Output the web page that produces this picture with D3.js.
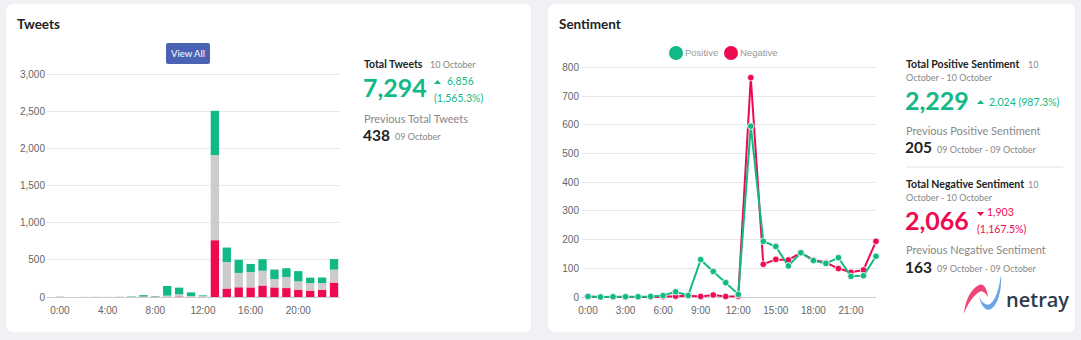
<!DOCTYPE html>
<html><head><meta charset="utf-8">
<script src="https://cdn.jsdelivr.net/npm/d3@7"></script>
<style>
html,body{margin:0;padding:0;background:#eff1f5;}
svg{display:block;}
</style></head>
<body>
<svg id="c" width="1081" height="340"></svg>
<script>
// ---- data ----
const hours = d3.range(24);
const hourLabels = hours.map(h => h + ":00");
const positive = [2,0,1,1,1,2,5,18,5,130,89,50,9,595,194,176,108,154,127,117,137,72,74,142];
const negative = [1,0,0,0,0,0,1,3,4,2,7,2,3,764,114,131,129,154,129,120,99,86,94,194];
const neutral  = [2,1,1,1,1,2,3,4,4,16,30,10,10,1146,357,193,207,200,113,150,112,102,94,174];
const barYTicks = [0,500,1000,1500,2000,2500,3000];
const barXTicks = [0,4,8,12,16,20];
const lineYTicks = [0,100,200,300,400,500,600,700,800];
const lineXTicks = [0,3,6,9,12,15,18,21];
const seriesNames = ["Positive","Negative"];

const GREEN = "#12b886", RED = "#ee0a4f", GREY = "#cccccc";
const TXT = "#666", FONT = "'Liberation Sans', Arial, sans-serif", UI = "Lato, 'Noto Sans', sans-serif";

const svg = d3.select("#c");

// cards
svg.append("rect").attr("x",6).attr("y",4).attr("width",525).attr("height",328).attr("rx",7).attr("fill","#fff");
svg.append("rect").attr("x",548).attr("y",4).attr("width",527).attr("height",328).attr("rx",7).attr("fill","#fff");

svg.append("text").attr("x",17).attr("y",29).text("Tweets")
  .attr("font-family",UI).attr("font-weight",700).attr("font-size",13.5).attr("fill","#222");
svg.append("text").attr("x",559).attr("y",29).text("Sentiment")
  .attr("font-family",UI).attr("font-weight",700).attr("font-size",13.5).attr("fill","#222");

// ---- bar chart ----
const x = d3.scaleBand().domain(hours).range([54,340]).paddingInner(0.3).paddingOuter(0.15);
const y = d3.scaleLinear().domain([0,3000]).range([297,74]);

const gB = svg.append("g");
gB.append("g").selectAll("line").data(barYTicks).join("line")
  .attr("x1",47).attr("x2",340).attr("y1",d=>y(d)).attr("y2",d=>y(d))
  .attr("stroke",d=>d===0?"#ccc":"#e6e6e6").attr("stroke-width",1).attr("shape-rendering","crispEdges");
gB.append("g").selectAll("text").data(barYTicks).join("text")
  .attr("x",45).attr("y",d=>y(d)).attr("dy","0.35em").attr("text-anchor","end")
  .text(d=>d3.format(",")(d)).attr("font-family",FONT).attr("font-size",10).attr("fill",TXT);
gB.append("g").selectAll("text").data(barXTicks).join("text")
  .attr("x",d=>x(d)+x.bandwidth()/2).attr("y",313.5).attr("text-anchor","middle")
  .text(d=>hourLabels[d]).attr("font-family",FONT).attr("font-size",10).attr("fill",TXT);

const rows = hours.map(h => ({h, negative:negative[h], neutral:neutral[h], positive:positive[h]}));
const stack = d3.stack().keys(["negative","neutral","positive"])(rows);
const colors = {negative:RED, neutral:GREY, positive:GREEN};
gB.append("g").selectAll("g").data(stack).join("g").attr("fill",d=>colors[d.key])
  .selectAll("rect").data(d=>d).join("rect")
  .attr("x",d=>x(d.data.h)).attr("width",x.bandwidth())
  .attr("y",d=>y(d[1])).attr("height",d=>Math.max(0,y(d[0])-y(d[1])));

// View All button
svg.append("rect").attr("x",166).attr("y",43).attr("width",44).attr("height",21).attr("rx",2).attr("fill","#4a63b4");
svg.append("text").attr("x",188).attr("y",57).attr("text-anchor","middle").text("View All")
  .attr("font-family",UI).attr("font-size",9.5).attr("fill","#fff");

// left summary
const t = svg.append("g").attr("font-family",UI);
t.append("text").attr("x",364).attr("y",68).text("Total Tweets").attr("font-weight",700).attr("font-size",10.5).attr("fill","#222");
t.append("text").attr("x",430).attr("y",68).text("10 October").attr("font-size",9).attr("fill","#888");
t.append("text").attr("x",363).attr("y",97).text("7,294").attr("font-weight",700).attr("font-size",25).attr("fill",GREEN);
t.append("path").attr("d","M434,84 L437.5,80 L441,84 Z").attr("fill",GREEN);
t.append("text").attr("x",447).attr("y",85).text("6,856").attr("font-size",10.5).attr("fill",GREEN);
t.append("text").attr("x",434).attr("y",101.5).text("(1,565.3%)").attr("font-size",10.5).attr("fill",GREEN);
t.append("text").attr("x",364).attr("y",123).text("Previous Total Tweets").attr("font-size",11).attr("fill","#888");
t.append("text").attr("x",363).attr("y",141).text("438").attr("font-weight",700).attr("font-size",15.5).attr("fill","#222");
t.append("text").attr("x",395).attr("y",140).text("09 October").attr("font-size",9).attr("fill","#888");

// ---- line chart ----
const xl = d3.scalePoint().domain(hours).range([588,876]);
const yl = d3.scaleLinear().domain([0,800]).range([297,67.3]);
const gL = svg.append("g");
gL.append("g").selectAll("line").data(lineYTicks).join("line")
  .attr("x1",582).attr("x2",876).attr("y1",d=>yl(d)).attr("y2",d=>yl(d))
  .attr("stroke",d=>d===0?"#ccc":"#e6e6e6").attr("shape-rendering","crispEdges");
gL.append("g").selectAll("text").data(lineYTicks).join("text")
  .attr("x",579).attr("y",d=>yl(d)).attr("dy","0.35em").attr("text-anchor","end")
  .text(d=>d).attr("font-family",FONT).attr("font-size",10).attr("fill",TXT);
gL.append("g").selectAll("text").data(lineXTicks).join("text")
  .attr("x",d=>xl(d)).attr("y",313.5).attr("text-anchor","middle")
  .text(d=>hourLabels[d]).attr("font-family",FONT).attr("font-size",10).attr("fill",TXT);

const line = d3.line().x((d,i)=>xl(i)).y(d=>yl(d));
[[negative,RED],[positive,GREEN]].forEach(([arr,col])=>{
  gL.append("path").datum(arr).attr("d",line).attr("fill","none").attr("stroke",col).attr("stroke-width",2);
  gL.append("g").selectAll("circle").data(arr).join("circle")
    .attr("cx",(d,i)=>xl(i)).attr("cy",d=>yl(d)).attr("r",3.3)
    .attr("fill",col).attr("stroke","#fff").attr("stroke-width",0.8);
});

// legend
const lg = svg.append("g").attr("font-family",FONT).attr("font-size",9.5);
[[676,GREEN],[731,RED]].forEach(([cx,col],i)=>{
  lg.append("circle").attr("cx",cx).attr("cy",53).attr("r",7).attr("fill",col);
  lg.append("text").attr("x",cx+9).attr("y",53).attr("dy","0.35em").text(seriesNames[i]).attr("fill","#999");
});

// right summary
const r = svg.append("g").attr("font-family",UI);
r.append("text").attr("x",906).attr("y",68).text("Total Positive Sentiment").attr("font-weight",700).attr("font-size",10.5).attr("fill","#222");
r.append("text").attr("x",1028).attr("y",68).text("10").attr("font-size",9).attr("fill","#888");
r.append("text").attr("x",906).attr("y",81).text("October - 10 October").attr("font-size",9).attr("fill","#888");
r.append("text").attr("x",905).attr("y",110).text("2,229").attr("font-weight",700).attr("font-size",25).attr("fill",GREEN);
r.append("path").attr("d","M977,104 L980.5,100 L984,104 Z").attr("fill",GREEN);
r.append("text").attr("x",989).attr("y",105.5).text("2,024 (987.3%)").attr("font-size",10.5).attr("fill",GREEN);
r.append("text").attr("x",906).attr("y",135).text("Previous Positive Sentiment").attr("font-size",11).attr("fill","#888");
r.append("text").attr("x",905).attr("y",153).text("205").attr("font-weight",700).attr("font-size",15.5).attr("fill","#222");
r.append("text").attr("x",937).attr("y",153).text("09 October - 09 October").attr("font-size",9).attr("fill","#888");
r.append("line").attr("x1",906).attr("x2",1063).attr("y1",167).attr("y2",167).attr("stroke","#e3e3e3");
r.append("text").attr("x",906).attr("y",188).text("Total Negative Sentiment").attr("font-weight",700).attr("font-size",10.5).attr("fill","#222");
r.append("text").attr("x",1028).attr("y",188).text("10").attr("font-size",9).attr("fill","#888");
r.append("text").attr("x",906).attr("y",201).text("October - 10 October").attr("font-size",9).attr("fill","#888");
r.append("text").attr("x",905).attr("y",230).text("2,066").attr("font-weight",700).attr("font-size",25).attr("fill",RED);
r.append("path").attr("d","M977,212 L980.5,216 L984,212 Z").attr("fill",RED);
r.append("text").attr("x",987).attr("y",216).text("1,903").attr("font-size",10.5).attr("fill",RED);
r.append("text").attr("x",977).attr("y",232.5).text("(1,167.5%)").attr("font-size",10.5).attr("fill",RED);
r.append("text").attr("x",906).attr("y",254).text("Previous Negative Sentiment").attr("font-size",11).attr("fill","#888");
r.append("text").attr("x",905).attr("y",273).text("163").attr("font-weight",700).attr("font-size",15.5).attr("fill","#222");
r.append("text").attr("x",937).attr("y",272).text("09 October - 09 October").attr("font-size",9).attr("fill","#888");

// netray logo
svg.append("path").attr("d","M964,314 C965,300 971,289 979,285 C984,283 987,289 988,297 C985,292 982,290 979,292 C972,297 967,305 964,314 Z").attr("fill","#ee4676");
svg.append("path").attr("d","M979,296 C982,303 986,306 990,304 C996,300 999,288 1001,275 C1002,290 998,305 991,309 C985,312 981,305 979,296 Z").attr("fill","#69a6e7");
svg.append("text").attr("x",1006).attr("y",307).text("netray").attr("font-family","'Open Sans', sans-serif").attr("font-weight",600).attr("font-size",20).attr("fill","#2d3b4e");
</script>
</body></html>
